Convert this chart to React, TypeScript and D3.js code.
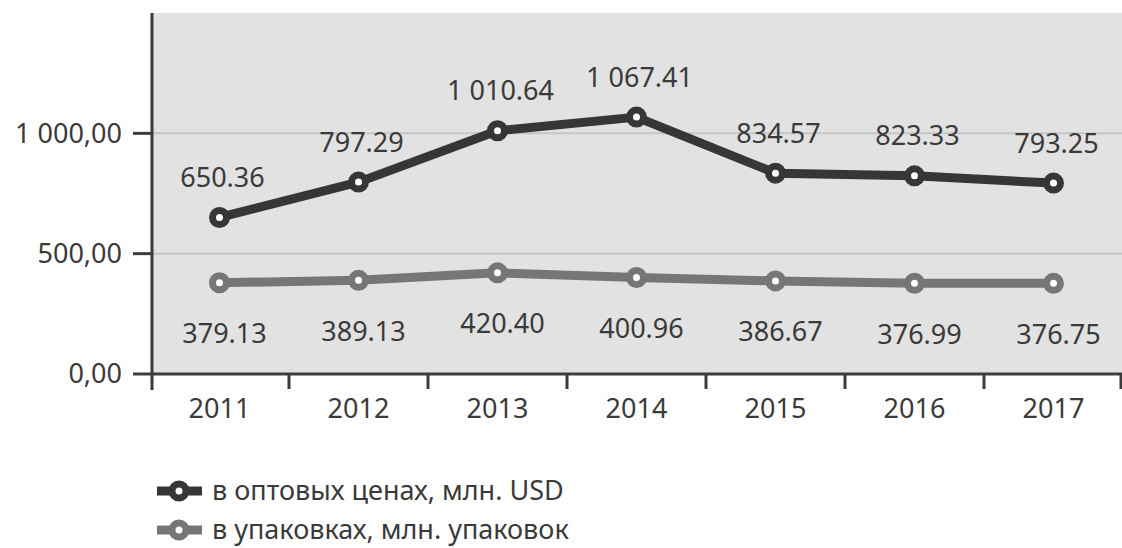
import React from "react";
import * as d3 from "d3";

const years = ["2011", "2012", "2013", "2014", "2015", "2016", "2017"];
const wholesaleUSD = [650.36, 797.29, 1010.64, 1067.41, 834.57, 823.33, 793.25];
const wholesaleLabels = ["650.36", "797.29", "1 010.64", "1 067.41", "834.57", "823.33", "793.25"];
const packs = [379.13, 389.13, 420.4, 400.96, 386.67, 376.99, 376.75];
const packLabels = ["379.13", "389.13", "420.40", "400.96", "386.67", "376.99", "376.75"];
const yTicks = [0, 500, 1000];
const yTickLabels = ["0,00", "500,00", "1 000,00"];
const legendItems = ["в оптовых ценах, млн. USD", "в упаковках, млн. упаковок"];

const W = 1122;
const H = 548;
const FONT = "'Noto Sans', 'Open Sans', sans-serif";
const DARK = "#363636";
const GRAY = "#767676";
const FS = 27;

export default function App() {
  const x = d3.scaleBand<string>().domain(years).range([150, 1123]).padding(0);
  const y = d3.scaleLinear().domain([0, 1500]).range([374, 13]);
  const cx = (d: string) => (x(d) as number) + x.bandwidth() / 2;

  const line = d3
    .line<number>()
    .x((_, i) => cx(years[i]))
    .y((d) => y(d));

  const xTickPositions = years.map((d) => x(d) as number);
  const series = [
    { values: wholesaleUSD, color: DARK },
    { values: packs, color: GRAY },
  ];

  return (
    <svg
      width={W}
      height={H}
      style={{ position: "absolute", left: 0, top: 0, background: "#fff" }}
      fontFamily={FONT}
    >
      <rect x={152} y={y(1500)} width={W - 152} height={y(0) - y(1500)} fill="#e2e2e2" />
      {yTicks
        .filter((t) => t > 0)
        .map((t) => (
          <line key={t} x1={152} x2={W} y1={y(t)} y2={y(t)} stroke="#c6c6c6" strokeWidth={2} />
        ))}
      <line x1={152} x2={152} y1={y(1500)} y2={390} stroke="#3c3c3c" strokeWidth={3} />
      <line x1={152} x2={W} y1={y(0)} y2={y(0)} stroke="#3c3c3c" strokeWidth={3} />
      {yTicks.map((t, i) => (
        <g key={t}>
          <line x1={133} x2={152} y1={y(t)} y2={y(t)} stroke="#3c3c3c" strokeWidth={3} />
          <text x={122} y={y(t)} dy="0.35em" textAnchor="end" fontSize={FS} fill="#3a3a3a">
            {yTickLabels[i]}
          </text>
        </g>
      ))}
      {xTickPositions.slice(1).map((p, i) => (
        <line key={i} x1={p} x2={p} y1={y(0)} y2={389} stroke="#3c3c3c" strokeWidth={3} />
      ))}
      <line x1={1121} x2={1121} y1={y(0)} y2={389} stroke="#3c3c3c" strokeWidth={3} />
      {years.map((d) => (
        <text key={d} x={cx(d)} y={409} dy="0.35em" textAnchor="middle" fontSize={FS} fill="#3a3a3a">
          {d}
        </text>
      ))}
      {series.map((s, si) => (
        <g key={si}>
          <path d={line(s.values) || ""} fill="none" stroke={s.color} strokeWidth={9} strokeLinejoin="round" />
          {s.values.map((v, i) => (
            <circle key={i} cx={cx(years[i])} cy={y(v)} r={7} fill="#fff" stroke={s.color} strokeWidth={7} />
          ))}
        </g>
      ))}
      {wholesaleUSD.map((v, i) => (
        <text key={i} x={cx(years[i]) + 3} y={y(v) - 40} dy="0.35em" textAnchor="middle" fontSize={FS} fill="#3a3a3a">
          {wholesaleLabels[i]}
        </text>
      ))}
      {packs.map((v, i) => (
        <text key={i} x={cx(years[i]) + 5} y={y(v) + 51} dy="0.35em" textAnchor="middle" fontSize={FS} fill="#3a3a3a">
          {packLabels[i]}
        </text>
      ))}
      {legendItems.map((label, i) => {
        const ly = 491 + i * 39;
        const color = i === 0 ? DARK : GRAY;
        return (
          <g key={label}>
            <line x1={157} x2={202} y1={ly} y2={ly} stroke={color} strokeWidth={9} />
            <circle cx={179} cy={ly} r={7} fill="#fff" stroke={color} strokeWidth={7} />
            <text x={212} y={ly} dy="0.35em" fontSize={FS} fill="#3a3a3a">
              {label}
            </text>
          </g>
        );
      })}
    </svg>
  );
}
